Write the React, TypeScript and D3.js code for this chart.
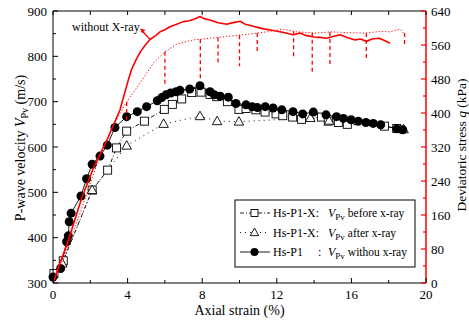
import React from "react";
import * as d3 from "d3";

// Hs-P1 : Vpv without x-ray (filled circles, solid line)
const hsP1Strain = [0.0, 0.41, 0.73, 0.82, 0.87, 0.97, 1.5, 1.8, 2.1, 2.52, 2.91, 3.32, 3.95, 4.52, 5.02, 5.59, 5.83, 6.06, 6.31, 6.6, 6.81, 7.33, 7.88, 8.42, 8.65, 8.97, 9.4, 9.81, 10.35, 10.68, 10.96, 11.38, 11.8, 12.27, 12.87, 13.39, 13.96, 14.64, 15.2, 15.57, 15.98, 16.37, 16.78, 17.17, 17.57, 18.43, 18.75];
const hsP1V = [313, 332, 391, 404, 435, 454, 492, 530, 562, 580, 604, 643, 667, 678, 689, 702, 709, 715, 719, 722, 725, 728, 735, 722, 715, 712, 710, 696, 693, 689, 687, 689, 686, 682, 678, 673, 677, 671, 667, 663, 660, 657, 654, 652, 649, 640, 638];

// Hs-P1-X : Vpv before x-ray (open squares, dash-dot line)
const beforeStrain = [0.05, 0.55, 2.1, 2.93, 3.41, 3.95, 4.9, 5.97, 6.4, 6.9, 7.44, 7.94, 8.42, 8.78, 9.35, 9.97, 10.35, 10.88, 11.37, 11.96, 12.32, 12.85, 13.33, 14.4, 14.76, 15.3, 15.78, 17.77, 18.43];
const beforeV = [321, 349, 505, 549, 598, 635, 657, 683, 694, 706, 720, 721, 716, 711, 700, 683, 685, 682, 677, 673, 669, 666, 661, 666, 657, 654, 650, 646, 641];

// Hs-P1-X : Vpv after x-ray (open triangles, dotted line)
const afterStrain = [0.5, 2.1, 3.95, 5.93, 7.88, 8.8, 9.97, 13.8, 14.8, 18.8];
const afterV = [343, 505, 603, 651, 668, 657, 656, 664, 658, 639];

// Deviatoric stress without X-ray (solid red)
const qSolidStrain = [0, 0.3, 0.7, 1.0, 1.54, 2.16, 2.97, 3.59, 4.04, 4.22, 4.45, 4.7, 4.95, 5.2, 5.5, 5.74, 6.0, 6.27, 6.6, 6.99, 7.3, 7.6, 7.88, 8.1, 8.42, 8.8, 9.31, 9.6, 10.03, 10.3, 10.6, 10.92, 11.3, 11.81, 12.3, 12.88, 13.24, 13.6, 14.0, 14.3, 14.7, 15.0, 15.4, 15.8, 16.2, 16.5, 16.8, 17.1, 17.5, 17.8, 18.07];
const qSolid = [0, 38, 85, 125, 200, 270, 344, 407, 478, 503, 525, 545, 560, 573, 582, 591, 596, 603, 608, 615, 617, 621, 627, 622, 619, 613, 609, 612, 616, 609, 606, 602, 598, 594, 590, 584, 588, 582, 579, 578, 576, 580, 584, 577, 572, 574, 568, 574, 576, 570, 564];

// Deviatoric stress, X-ray test (dotted red)
const qDotStrain = [0, 0.5, 1.0, 1.5, 2.0, 2.52, 3.2, 3.86, 4.66, 5.38, 6.0, 6.63, 7.52, 8.42, 9.31, 10.39, 11.46, 12.35, 13.07, 14.14, 14.9, 15.8, 16.8, 17.5, 18.07, 18.6, 18.8];
const qDot = [0, 50, 110, 170, 235, 300, 368, 420, 470, 517, 544, 562, 572, 576, 580, 585, 591, 597, 591, 588, 591, 589, 588, 592, 591, 597, 588];

// stress relaxation during x-ray scans (dashed red drops)
const dropStrain = [3.95, 6.0, 7.9, 8.85, 10.0, 10.95, 12.9, 13.9, 14.85, 16.8, 18.85];
const dropMinQ = [380, 466, 479, 515, 510, 540, 528, 493, 509, 525, 556];

const xTicks = [0, 4, 8, 12, 16, 20];
const vTicks = [300, 400, 500, 600, 700, 800, 900];
const qTicks = [0, 80, 160, 240, 320, 400, 480, 560, 640];

const serif = "'Liberation Serif', 'Times New Roman', serif";

function zip(a: number[], b: number[]): [number, number][] {
  return a.map((v, i) => [v, b[i]]);
}

function interp(xs: number[], ys: number[], v: number) {
  for (let i = 1; i < xs.length; i++) {
    if (v <= xs[i]) {
      const t = (v - xs[i - 1]) / (xs[i] - xs[i - 1]);
      return ys[i - 1] + t * (ys[i] - ys[i - 1]);
    }
  }
  return ys[ys.length - 1];
}

export default function App() {
  const x = d3.scaleLinear().domain([0, 20]).range([53, 426]);
  const yV = d3.scaleLinear().domain([300, 900]).range([283, 11]);
  const yQ = d3.scaleLinear().domain([0, 640]).range([283, 11]);

  const lineV = d3.line<[number, number]>().x((d) => x(d[0])).y((d) => yV(d[1]));
  const lineQ = d3.line<[number, number]>().x((d) => x(d[0])).y((d) => yQ(d[1]));

  const circles = zip(hsP1Strain, hsP1V);
  const squares = zip(beforeStrain, beforeV);
  const tris = zip(afterStrain, afterV);

  const x0 = x(0), x1 = x(20), y0 = yV(300), y1 = yV(900);

  const minorX = d3.range(0, 20.01, 2);
  const minorV = d3.range(300, 900.01, 50);
  const minorQ = d3.range(0, 640.01, 40);

  const triPath = (cx: number, cy: number, r: number) =>
    `M${cx},${cy - r}L${cx + r * 0.95},${cy + r * 0.7}L${cx - r * 0.95},${cy + r * 0.7}Z`;

  // annotation anchor on the solid stress curve
  const annS = 5.2;
  const annX = x(annS);
  const annY = yQ(interp(qSolidStrain, qSolid, annS));

  const legX = 235, legY = 200, legW = 180, legH = 67;
  const rows = [213, 232.5, 252];

  return (
    <svg width={469} height={327} style={{ position: "absolute", left: 0, top: 0 }} fontFamily={serif}>
      <rect x={0} y={0} width={469} height={327} fill="#fff" />
      <defs>
        <clipPath id="plot">
          <rect x={x0} y={y1} width={x1 - x0} height={y0 - y1} />
        </clipPath>
      </defs>

      {/* black lines */}
      <path d={lineV(squares) || ""} fill="none" stroke="#000" strokeWidth={0.9} strokeDasharray="4,2,1,2" />
      <path d={lineV(tris) || ""} fill="none" stroke="#000" strokeWidth={0.9} strokeDasharray="1,4" />
      <path d={lineV(circles) || ""} fill="none" stroke="#000" strokeWidth={0.9} />

      {/* markers */}
      {squares.map((d, i) => (
        <rect key={"s" + i} x={x(d[0]) - 4} y={yV(d[1]) - 4} width={8} height={8} fill="#fff" stroke="#000" strokeWidth={0.9} />
      ))}
      {tris.map((d, i) => (
        <path key={"t" + i} d={triPath(x(d[0]), yV(d[1]), 5)} fill="#fff" stroke="#000" strokeWidth={0.9} />
      ))}
      {circles.map((d, i) => (
        <circle key={"c" + i} cx={x(d[0])} cy={yV(d[1])} r={4.5} fill="#000" />
      ))}

      {/* red stress curves */}
      <g clipPath="url(#plot)">
        <path d={lineQ(zip(qDotStrain, qDot)) || ""} fill="none" stroke="#f00" strokeWidth={1} strokeDasharray="1.2,2" />
        {dropStrain.map((s, i) => (
          <line key={"d" + i} x1={x(s)} x2={x(s)} y1={yQ(interp(qDotStrain, qDot, s))} y2={yQ(dropMinQ[i])} stroke="#f00" strokeWidth={1.3} strokeDasharray="4,3" />
        ))}
        <path d={lineQ(zip(qSolidStrain, qSolid)) || ""} fill="none" stroke="#f00" strokeWidth={1.6} strokeLinejoin="round" />
      </g>

      {/* annotation */}
      <line x1={annX} y1={annY} x2={annX - 8.5} y2={annY - 9.5} stroke="#f00" strokeWidth={1.2} />
      <path d={`M${annX - 10},${annY - 11} l5.5,1.5 l-3.5,3.2 Z`} fill="#f00" />
      <text x={72} y={31} fontSize={12} fill="#000">without X-ray</text>

      {/* frame */}
      <line x1={x0} x2={x1} y1={y1} y2={y1} stroke="#000" strokeWidth={1} />
      <line x1={x0} x2={x1} y1={y0} y2={y0} stroke="#000" strokeWidth={1} />
      <line x1={x0} x2={x0} y1={y1} y2={y0} stroke="#000" strokeWidth={1} />
      <line x1={x1} x2={x1} y1={y1} y2={y0} stroke="#f00" strokeWidth={1.5} />

      {/* x ticks */}
      {minorX.map((t) => {
        const major = xTicks.includes(t);
        return (
          <g key={"xt" + t}>
            <line x1={x(t)} x2={x(t)} y1={y0} y2={y0 - (major ? 5 : 3)} stroke="#000" />
            <line x1={x(t)} x2={x(t)} y1={y1} y2={y1 + 4} stroke="#000" />
          </g>
        );
      })}
      {xTicks.map((t) => (
        <text key={"xl" + t} x={x(t)} y={298.5} fontSize={13} textAnchor="middle" fill="#000">{t}</text>
      ))}
      <text x={(x0 + x1) / 2} y={315} fontSize={14} textAnchor="middle" fill="#000">Axial strain (%)</text>

      {/* left axis */}
      {minorV.map((t) => {
        const major = vTicks.includes(t);
        return <line key={"vt" + t} x1={x0} x2={x0 + (major ? 5 : 3)} y1={yV(t)} y2={yV(t)} stroke="#000" />;
      })}
      {vTicks.map((t) => (
        <text key={"vl" + t} x={47} y={yV(t)} dy="0.35em" fontSize={13} textAnchor="end" fill="#000">{t}</text>
      ))}
      <text transform="translate(25,148) rotate(-90)" fontSize={14} textAnchor="middle" fill="#000">
        P-wave velocity <tspan fontStyle="italic">V</tspan>
        <tspan fontSize={10} dy={3}>Pv</tspan>
        <tspan dy={-3}> (m/s)</tspan>
      </text>

      {/* right axis */}
      {minorQ.map((t) => {
        const major = qTicks.includes(t);
        return <line key={"qt" + t} x1={x1} x2={x1 - (major ? 5 : 3)} y1={yQ(t)} y2={yQ(t)} stroke="#f00" strokeWidth={1.2} />;
      })}
      {qTicks.map((t) => (
        <text key={"ql" + t} x={431} y={yQ(t)} dy="0.35em" fontSize={13} textAnchor="start" fill="#000">{t}</text>
      ))}
      <text transform="translate(465.5,145) rotate(-90)" fontSize={13.5} textAnchor="middle" fill="#000">
        Deviatoric stress <tspan fontStyle="italic">q</tspan> (kPa)
      </text>

      {/* legend */}
      <rect x={legX} y={legY} width={legW} height={legH} fill="#fff" stroke="#000" strokeWidth={1} />
      <line x1={240} x2={270} y1={rows[0]} y2={rows[0]} stroke="#000" strokeWidth={0.9} strokeDasharray="4,2,1,2" />
      <rect x={251} y={rows[0] - 3.5} width={7} height={7} fill="#fff" stroke="#000" strokeWidth={0.9} />
      <line x1={240} x2={270} y1={rows[1]} y2={rows[1]} stroke="#000" strokeWidth={0.9} strokeDasharray="1,4" />
      <path d={triPath(254.5, rows[1], 4.5)} fill="#fff" stroke="#000" strokeWidth={0.9} />
      <line x1={240} x2={270} y1={rows[2]} y2={rows[2]} stroke="#000" strokeWidth={0.9} />
      <circle cx={254.5} cy={rows[2]} r={4} fill="#000" />

      {[
        { name: "Hs-P1-X:", desc: "before x-ray" },
        { name: "Hs-P1-X:", desc: "after x-ray" },
        { name: "Hs-P1", desc: "withou x-ray" },
      ].map((r, i) => (
        <g key={"lg" + i} fill="#000">
          <text x={273} y={rows[i]} dy="0.35em" fontSize={12}>{r.name}</text>
          {i === 2 && <text x={318} y={rows[i]} dy="0.35em" fontSize={12}>:</text>}
          <text x={328} y={rows[i]} dy="0.35em" fontSize={12}>
            <tspan fontStyle="italic">V</tspan>
            <tspan fontSize={9} dy={3}>Pv</tspan>
            <tspan fontSize={11.5} dy={-3} dx={3}>{r.desc}</tspan>
          </text>
        </g>
      ))}
    </svg>
  );
}
